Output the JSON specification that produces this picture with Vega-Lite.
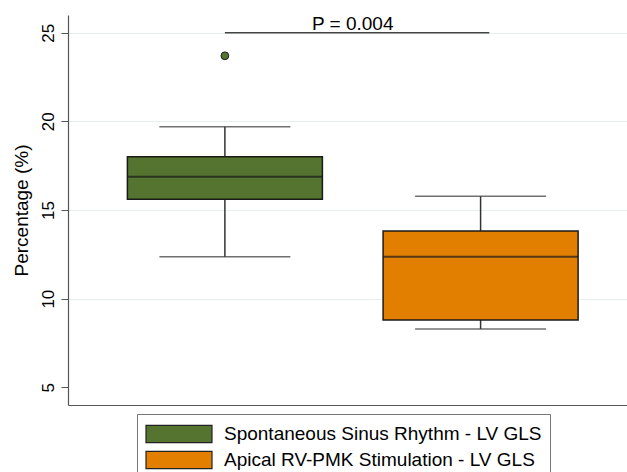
{
  "$schema": "https://vega.github.io/schema/vega-lite/v6.json",
  "width": 559,
  "height": 390,
  "autosize": {"type": "none"},
  "padding": {"left": 68, "top": 15, "right": 0, "bottom": 67},
  "background": "white",
  "config": {
    "view": {"stroke": null},
    "font": "Liberation Sans"
  },
  "datasets": {
    "boxes": [
      {"group": "Spontaneous Sinus Rhythm - LV GLS", "pos": 1, "lower": 12.36, "q1": 15.6, "median": 16.88, "q3": 18.01, "upper": 19.7},
      {"group": "Apical RV-PMK Stimulation - LV GLS", "pos": 2, "lower": 8.29, "q1": 8.79, "median": 12.36, "q3": 13.82, "upper": 15.77}
    ],
    "outliers": [
      {"group": "Spontaneous Sinus Rhythm - LV GLS", "pos": 1, "value": 23.7}
    ],
    "pvalue": [
      {"label": "P = 0.004", "start": 1, "end": 2.034, "mid": 1.5, "y": 25}
    ]
  },
  "layer": [
    {
      "data": {"name": "boxes"},
      "mark": {"type": "rule", "color": "#333333", "strokeWidth": 1.5},
      "encoding": {
        "x": {"field": "pos", "type": "quantitative", "scale": {"domain": [0.406, 2.553], "nice": false, "zero": false}, "axis": {"labels": false, "ticks": false, "title": null, "grid": false, "domainColor": "#555555", "domainWidth": 1.2}},
        "y": {"field": "lower", "type": "quantitative", "scale": {"domain": [4, 26], "nice": false, "zero": false},
          "axis": {"values": [5, 10, 15, 20, 25], "title": "Percentage (%)", "titleFontSize": 19, "titleFontWeight": "normal", "titleColor": "black", "titlePadding": 8,
            "labelAngle": -90, "labelFontSize": 17, "labelColor": "black", "labelPadding": 4, "tickSize": 7, "tickColor": "#555555", "domainColor": "#555555", "domainWidth": 1.2,
            "grid": true, "gridColor": {"condition": {"test": "datum.value === 5", "value": "transparent"}, "value": "#e6eef0"}, "gridWidth": 1.2}},
        "y2": {"field": "upper"}
      }
    },
    {
      "data": {"name": "boxes"},
      "mark": {"type": "tick", "orient": "horizontal", "size": 131, "thickness": 1.5, "color": "#333333"},
      "encoding": {
        "x": {"field": "pos", "type": "quantitative"},
        "y": {"field": "lower", "type": "quantitative"}
      }
    },
    {
      "data": {"name": "boxes"},
      "mark": {"type": "tick", "orient": "horizontal", "size": 131, "thickness": 1.5, "color": "#333333"},
      "encoding": {
        "x": {"field": "pos", "type": "quantitative"},
        "y": {"field": "upper", "type": "quantitative"}
      }
    },
    {
      "data": {"name": "boxes"},
      "mark": {"type": "bar", "size": 195, "stroke": "#1a1a1a", "strokeWidth": 1.5, "opacity": 1},
      "encoding": {
        "x": {"field": "pos", "type": "quantitative"},
        "y": {"field": "q1", "type": "quantitative"},
        "y2": {"field": "q3"},
        "fill": {"field": "group", "type": "nominal",
          "scale": {"domain": ["Spontaneous Sinus Rhythm - LV GLS", "Apical RV-PMK Stimulation - LV GLS"], "range": ["#55742f", "#e37f00"]},
          "legend": {"orient": "none", "legendX": 69, "legendY": 399, "direction": "vertical", "title": null,
            "symbolType": "M-1,-0.26H1V0.26H-1Z", "symbolSize": 4356, "symbolStrokeColor": "#222222", "symbolStrokeWidth": 1.2, "symbolOpacity": 1,
            "clipHeight": 24, "rowPadding": 2, "labelFontSize": 19, "labelColor": "black", "labelOffset": 11, "labelLimit": 600,
            "labelExpr": "datum.label + '\u00a0\u00a0\u00a0'",
            "padding": 8, "strokeColor": "#777777", "fillColor": "white"}
        }
      }
    },
    {
      "data": {"name": "boxes"},
      "mark": {"type": "tick", "orient": "horizontal", "size": 195, "thickness": 2, "color": "#1a1a1a"},
      "encoding": {
        "x": {"field": "pos", "type": "quantitative"},
        "y": {"field": "median", "type": "quantitative"}
      }
    },
    {
      "data": {"name": "outliers"},
      "mark": {"type": "point", "filled": true, "fill": "#55742f", "stroke": "#1a1a1a", "strokeWidth": 1, "size": 60, "opacity": 1},
      "encoding": {
        "x": {"field": "pos", "type": "quantitative"},
        "y": {"field": "value", "type": "quantitative"}
      }
    },
    {
      "data": {"name": "pvalue"},
      "mark": {"type": "rule", "color": "#444444", "strokeWidth": 1.3},
      "encoding": {
        "x": {"field": "start", "type": "quantitative"},
        "x2": {"field": "end"},
        "y": {"field": "y", "type": "quantitative"}
      }
    },
    {
      "data": {"name": "pvalue"},
      "mark": {"type": "text", "fontSize": 19, "color": "black", "align": "center", "baseline": "alphabetic", "dy": -3},
      "encoding": {
        "x": {"field": "mid", "type": "quantitative"},
        "y": {"field": "y", "type": "quantitative"},
        "text": {"field": "label"}
      }
    }
  ]
}
